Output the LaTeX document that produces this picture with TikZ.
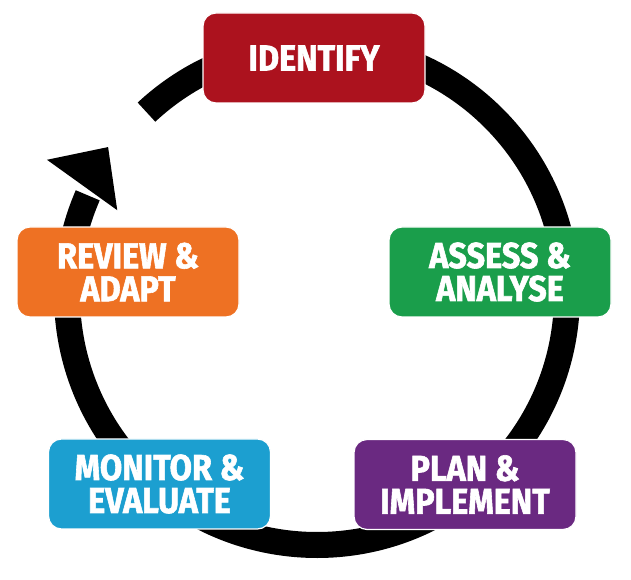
\documentclass[tikz,border=0pt]{standalone}
\usepackage{fontspec}
\setmainfont{Fira Sans}
\newfontfamily\labfont{Fira Sans}[FakeStretch=0.9, BoldFeatures={FakeBold=1.6}]
\usetikzlibrary{calc}
\definecolor{cred}{RGB}{172,18,30}
\definecolor{cgreen}{RGB}{26,158,75}
\definecolor{corange}{RGB}{238,113,35}
\definecolor{cblue}{RGB}{28,159,208}
\definecolor{cpurple}{RGB}{106,41,129}
\begin{document}
\begin{tikzpicture}[x=1pt,y=1pt,
  stagebox/.style={rounded corners=13pt, draw=white, line width=1.2pt,
    minimum width=222pt, minimum height=90pt, inner sep=0pt, text=white,
    align=center, font=\labfont\bfseries\fontsize{36}{33}\selectfont}]
\useasboundingbox (0,0) rectangle (631,580);
\coordinate (c) at (317,285);
% cycle ring
\draw[line width=26pt] ($(c)+(133:250)$) arc[start angle=133,end angle=-203.5,radius=250];
% arrowhead
\fill ($(c)+(153.4:302)$) -- ($(c)+(144.7:256)$) -- ($(c)+(157:217)$) -- cycle;
% stages
\node[stagebox, fill=cred]    (identify) at (314,522)   {IDENTIFY};
\node[stagebox, fill=cgreen]  (assess)   at (500,308)   {ASSESS \&\\ANALYSE};
\node[stagebox, fill=cpurple] (plan)     at (465,95.5)  {PLAN \&\\IMPLEMENT};
\node[stagebox, fill=cblue]   (monitor)  at (159.5,96)  {MONITOR \&\\EVALUATE};
\node[stagebox, fill=corange] (review)   at (128,308)   {REVIEW \&\\ADAPT};
\end{tikzpicture}
\end{document}
